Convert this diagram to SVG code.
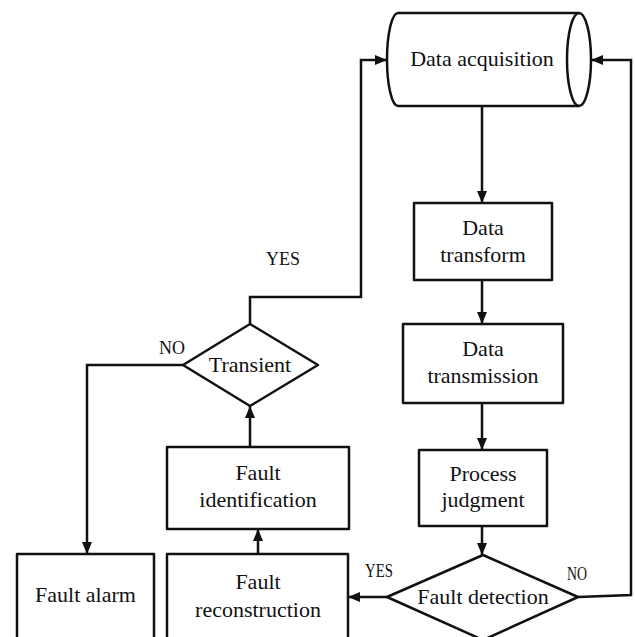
<svg xmlns="http://www.w3.org/2000/svg" width="635" height="637" viewBox="0 0 635 637">
<style>
.s{fill:#fff;stroke:#111;stroke-width:2.5;stroke-linejoin:round}
.t{font-family:"Liberation Serif","Times New Roman",serif;font-size:22px;fill:#111;text-anchor:middle}
.l{font-family:"Liberation Serif","Times New Roman",serif;font-size:18px;fill:#111;text-anchor:middle}
.c{fill:none;stroke:#111;stroke-width:2.5}
</style>
<defs>
<marker id="ah" markerUnits="userSpaceOnUse" markerWidth="12" markerHeight="10" refX="12" refY="5" orient="auto">
<path d="M0,0 L12,5 L0,10 Z" fill="#111"/>
</marker>
</defs>
<rect width="635" height="637" fill="#fff"/>
<g id="connectors">
<path class="c" d="M482,106 L482,203" marker-end="url(#ah)"/>
<path class="c" d="M482,280 L482,324" marker-end="url(#ah)"/>
<path class="c" d="M482,403 L482,450" marker-end="url(#ah)"/>
<path class="c" d="M482,526 L482,555" marker-end="url(#ah)"/>
<path class="c" d="M578,597 L631,595 L631,60 L591,60" marker-end="url(#ah)"/>
<path class="c" d="M387,597 L348,597" marker-end="url(#ah)"/>
<path class="c" d="M258,554 L258,529" marker-end="url(#ah)"/>
<path class="c" d="M250,447 L250,406" marker-end="url(#ah)"/>
<path class="c" d="M250,324 L250,297 L361,297 L361,60 L387,60" marker-end="url(#ah)"/>
<path class="c" d="M183,365 L87,365 L87,554" marker-end="url(#ah)"/>
<text class="l" x="283" y="265">YES</text>
<text class="l" x="172" y="354">NO</text>
<text class="l" x="379" y="577" font-size="16" textLength="28" lengthAdjust="spacingAndGlyphs">YES</text>
<text class="l" x="577" y="580" font-size="16" textLength="20" lengthAdjust="spacingAndGlyphs">NO</text>
</g>
<g id="data-acquisition">
<path class="s" d="M398,13 L579,13 A12,46.5 0 0 1 579,106 L398,106 A11,46.5 0 0 1 398,13 Z"/>
<path class="c" d="M579,13 A12,46.5 0 0 0 579,106"/>
<text class="t" x="482" y="66">Data acquisition</text>
</g>
<g id="data-transform">
<rect class="s" x="414" y="203" width="138" height="77"/>
<text class="t" x="483" y="235">Data</text>
<text class="t" x="483" y="262">transform</text>
</g>
<g id="data-transmission">
<rect class="s" x="403" y="324" width="160" height="79"/>
<text class="t" x="483" y="356">Data</text>
<text class="t" x="483" y="383">transmission</text>
</g>
<g id="process-judgment">
<rect class="s" x="419" y="450" width="128" height="76"/>
<text class="t" x="483" y="481">Process</text>
<text class="t" x="483" y="507">judgment</text>
</g>
<g id="fault-detection">
<polygon class="s" points="483,555 578,597 483,640 387,597"/>
<text class="t" x="483" y="604">Fault detection</text>
</g>
<g id="fault-reconstruction">
<rect class="s" x="167" y="554" width="181" height="90"/>
<text class="t" x="258" y="589">Fault</text>
<text class="t" x="258" y="617">reconstruction</text>
</g>
<g id="fault-identification">
<rect class="s" x="167" y="447" width="182" height="82"/>
<text class="t" x="258" y="480">Fault</text>
<text class="t" x="258" y="507">identification</text>
</g>
<g id="transient">
<polygon class="s" points="250,324 318,365 250,406 183,365"/>
<text class="t" x="250" y="372">Transient</text>
</g>
<g id="fault-alarm">
<rect class="s" x="17" y="554" width="137" height="90"/>
<text class="t" x="85.5" y="602">Fault alarm</text>
</g>
</svg>
